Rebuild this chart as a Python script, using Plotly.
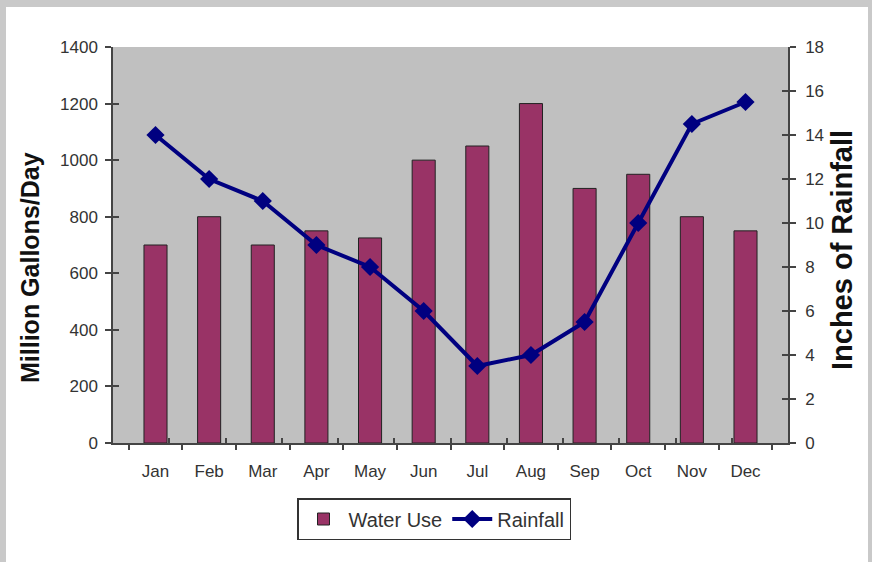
import plotly.graph_objects as go

months = ["Jan", "Feb", "Mar", "Apr", "May", "Jun", "Jul", "Aug", "Sep", "Oct", "Nov", "Dec"]
water_use = [700, 800, 700, 750, 725, 1000, 1050, 1200, 900, 950, 800, 750]
rainfall = [14, 12, 11, 9, 8, 6, 3.5, 4, 5.5, 10, 14.5, 15.5]
left_ticks = [0, 200, 400, 600, 800, 1000, 1200, 1400]
right_ticks = [0, 2, 4, 6, 8, 10, 12, 14, 16, 18]

font = "Liberation Sans, Arial, sans-serif"
PW, PH = 675, 396
AX = "#444444"
FRAME = "#c9c9c9"

fig = go.Figure()
fig.add_trace(go.Bar(
    x=months, y=water_use, name="Water Use",
    marker=dict(color="#993366", line=dict(color="#222222", width=1)),
    width=0.43,
))
fig.add_trace(go.Scatter(
    x=months, y=rainfall, name="Rainfall", yaxis="y2",
    mode="lines+markers",
    line=dict(color="#000080", width=4),
    marker=dict(symbol="diamond", size=14, color="#000080"),
))
# invisible helpers so the inner tick axes get drawn
for xa, ya in (("x2", "y"), ("x", "y3"), ("x", "y4")):
    fig.add_trace(go.Scatter(
        x=[], y=[], xaxis=xa, yaxis=ya, mode="markers",
        showlegend=False, hoverinfo="skip",
    ))


def px_x(p):
    return (p - 113) / PW


def px_y(p):
    return (443 - p) / PH


fig.update_layout(
    width=872, height=562,
    margin=dict(l=113, r=84, t=47, b=119, autoexpand=False),
    paper_bgcolor="white",
    plot_bgcolor="#c0c0c0",
    font=dict(family=font, size=17, color="#333333"),
    showlegend=True,
    legend=dict(
        orientation="h", x=px_x(434), xanchor="center",
        y=px_y(498), yanchor="top",
        bgcolor="white", bordercolor="#333333", borderwidth=1.5,
        font=dict(size=20, color="#333333"),
        itemwidth=40, tracegroupgap=0,
    ),
    xaxis=dict(
        showline=True, linecolor=AX, linewidth=1.5,
        ticks="outside", ticklen=5, tickcolor=AX, tickwidth=1.5,
        tickson="boundaries", showgrid=False, automargin=False,
        ticklabelstandoff=12,
        tickfont=dict(size=17),
    ),
    xaxis2=dict(
        overlaying="x", anchor="y", side="bottom", range=[-0.5, 11.5],
        tickvals=[i + 0.5 for i in range(-1, 12)],
        ticks="inside", ticklen=5, tickcolor=AX, tickwidth=1.5,
        showticklabels=False, showline=False, showgrid=False, zeroline=False,
        automargin=False,
    ),
    yaxis=dict(
        range=[0, 1400], tickvals=left_ticks,
        showline=True, linecolor=AX, linewidth=1.5,
        ticks="outside", ticklen=6, tickcolor=AX, tickwidth=1.5,
        showgrid=False, zeroline=False, automargin=False,
        ticklabelstandoff=4,
        tickfont=dict(size=17),
    ),
    yaxis3=dict(
        range=[0, 1400], tickvals=left_ticks, overlaying="y", side="left", anchor="x",
        ticks="inside", ticklen=6, tickcolor=AX, tickwidth=1.5,
        showticklabels=False, showline=False, showgrid=False, zeroline=False,
        automargin=False,
    ),
    yaxis2=dict(
        range=[0, 18], tickvals=right_ticks, overlaying="y", side="right",
        showline=True, linecolor=AX, linewidth=1.5,
        ticks="outside", ticklen=6, tickcolor=AX, tickwidth=1.5,
        showgrid=False, zeroline=False, automargin=False,
        ticklabelstandoff=6,
        tickfont=dict(size=17),
    ),
    yaxis4=dict(
        range=[0, 18], tickvals=right_ticks, overlaying="y", side="right", anchor="x",
        ticks="inside", ticklen=6, tickcolor=AX, tickwidth=1.5,
        showticklabels=False, showline=False, showgrid=False, zeroline=False,
        automargin=False,
    ),
    annotations=[
        dict(
            text="<b>Million Gallons/Day</b>", textangle=-90,
            xref="paper", yref="paper", x=px_x(30), y=px_y(268),
            xanchor="center", yanchor="middle", showarrow=False,
            font=dict(size=25, color="#111111"),
        ),
        dict(
            text="<b>Inches of Rainfall</b>", textangle=-90,
            xref="paper", yref="paper", x=px_x(842), y=px_y(250),
            xanchor="center", yanchor="middle", showarrow=False,
            font=dict(size=29, color="#111111"),
        ),
    ],
    shapes=[
        # outer grey frame around the white chart panel
        dict(type="rect", xref="paper", yref="paper", layer="below",
             x0=px_x(0), x1=px_x(6), y0=px_y(562), y1=px_y(0),
             fillcolor=FRAME, line=dict(width=0)),
        dict(type="rect", xref="paper", yref="paper", layer="below",
             x0=px_x(0), x1=px_x(872), y0=px_y(7), y1=px_y(0),
             fillcolor=FRAME, line=dict(width=0)),
        dict(type="rect", xref="paper", yref="paper", layer="below",
             x0=px_x(868), x1=px_x(872), y0=px_y(562), y1=px_y(0),
             fillcolor=FRAME, line=dict(width=0)),
    ],
)

fig.write_html(
    "out.html",
    config={"displayModeBar": False},
    post_script="document.body.style.margin='0';document.body.style.overflow='hidden';",
)
